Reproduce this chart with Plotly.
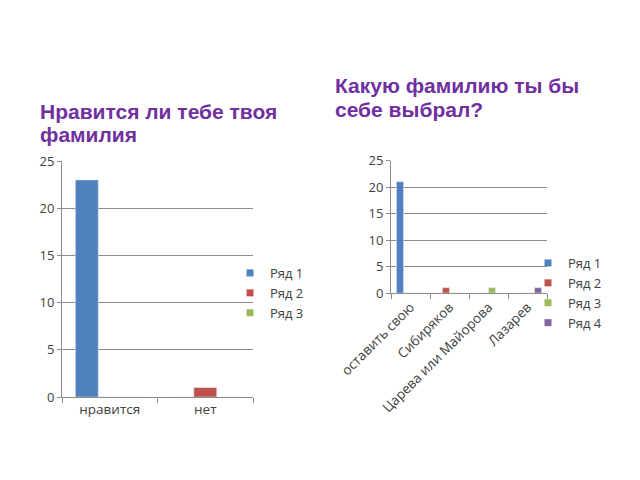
import plotly.graph_objects as go

W, H = 640, 480

# ---- data ----
cats_left = ["нравится", "нет"]
left_series = ["Ряд 1", "Ряд 2", "Ряд 3"]
left_values = [
    [23, 0],
    [0, 1],
    [0, 0],
]

cats_right = ["оставить свою", "Сибиряков", "Царева или Майорова", "Лазарев"]
right_series = ["Ряд 1", "Ряд 2", "Ряд 3", "Ряд 4"]
right_values = [
    [21, 0, 0, 0],
    [0, 1, 0, 0],
    [0, 0, 1, 0],
    [0, 0, 0, 1],
]

y_ticks = [0, 5, 10, 15, 20, 25]

title_left = ["Нравится ли тебе твоя", "фамилия"]
title_right = ["Какую фамилию ты бы", "себе выбрал?"]

colors = ["#4F81BD", "#C0504D", "#9BBB59", "#8064A2"]

FONT = "Open Sans, sans-serif"
TXT = "#404040"

def px_x(p):
    return p / W

def px_y(p):
    return 1 - p / H

fig = go.Figure()

for i, (name, vals) in enumerate(zip(left_series, left_values)):
    fig.add_trace(go.Bar(x=cats_left, y=vals, name=name, marker_color=colors[i],
                         xaxis="x", yaxis="y", showlegend=False, offsetgroup=str(i)))
    fig.add_trace(go.Scatter(x=[None], y=[None], mode="markers", name=name,
                             marker=dict(symbol="square", size=7, color=colors[i]),
                             xaxis="x", yaxis="y", legend="legend"))

for i, (name, vals) in enumerate(zip(right_series, right_values)):
    fig.add_trace(go.Bar(x=cats_right, y=vals, name=name, marker_color=colors[i],
                         xaxis="x2", yaxis="y2", showlegend=False, offsetgroup=str(i)))
    fig.add_trace(go.Scatter(x=[None], y=[None], mode="markers", name=name,
                             marker=dict(symbol="square", size=7, color=colors[i]),
                             xaxis="x2", yaxis="y2", legend="legend2"))

axis_common_x = dict(showgrid=False, showline=True, linecolor="#8c8c8c", linewidth=1,
                     ticks="outside", tickson="boundaries", ticklen=5, tickcolor="#8c8c8c",
                     tickfont=dict(family=FONT, size=13.5, color=TXT), fixedrange=True,
                     automargin=False)
axis_common_y = dict(range=[0, 25], tickvals=y_ticks, showgrid=True, gridcolor="#8c8c8c",
                     gridwidth=1, showline=True, linecolor="#8c8c8c", linewidth=1,
                     ticks="outside", ticklen=4, tickcolor="#8c8c8c", zeroline=False,
                     tickfont=dict(family=FONT, size=13, color=TXT), fixedrange=True,
                     automargin=False)

fig.update_layout(
    width=W, height=H,
    margin=dict(l=0, r=0, t=0, b=0, pad=0, autoexpand=False),
    paper_bgcolor="white", plot_bgcolor="white",
    barmode="group", bargap=0.28, bargroupgap=0,
    xaxis=dict(domain=[px_x(62), px_x(253)], anchor="y", **axis_common_x),
    yaxis=dict(domain=[px_y(397), px_y(161)], anchor="x", **axis_common_y),
    xaxis2=dict(domain=[px_x(391), px_x(547)], anchor="y2", tickangle=-45, **axis_common_x),
    yaxis2=dict(domain=[px_y(293), px_y(160.5)], anchor="x2", **axis_common_y),
    legend=dict(x=px_x(230), y=px_y(258), xanchor="left", yanchor="top",
                font=dict(family=FONT, size=13, color=TXT), bgcolor="rgba(0,0,0,0)",
                itemwidth=30, tracegroupgap=0),
    legend2=dict(x=px_x(528), y=px_y(248), xanchor="left", yanchor="top",
                 font=dict(family=FONT, size=13, color=TXT), bgcolor="rgba(0,0,0,0)",
                 itemwidth=30, tracegroupgap=0),
    showlegend=True,
)

title_font = dict(family="Liberation Sans, Arial, sans-serif", size=21, color="#7030A0")
left_title_y = [111.5, 134]
right_title_y = [85, 110]
for line, yy in zip(title_left, left_title_y):
    fig.add_annotation(text="<b>%s</b>" % line, x=px_x(38), y=px_y(yy),
                       xref="paper", yref="paper", xanchor="left", yanchor="middle",
                       showarrow=False, font=title_font)
for line, yy in zip(title_right, right_title_y):
    fig.add_annotation(text="<b>%s</b>" % line, x=px_x(333), y=px_y(yy),
                       xref="paper", yref="paper", xanchor="left", yanchor="middle",
                       showarrow=False, font=title_font)

fig.write_html("out.html")
